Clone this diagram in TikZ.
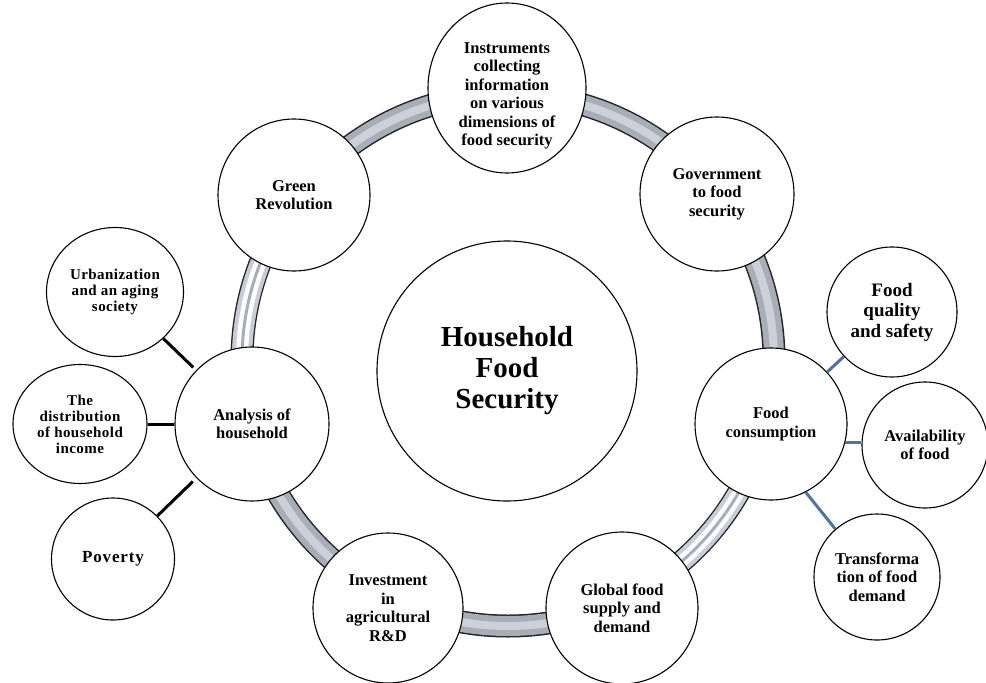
\documentclass[tikz,border=0pt]{standalone}
\usepackage{fontspec}
\setmainfont{Liberation Serif}
\usetikzlibrary{shapes.geometric}
\definecolor{ringgray}{HTML}{A9ADB8}
\definecolor{ringlight}{HTML}{CDD0D9}
\definecolor{ringlav}{HTML}{C8CBD8}
\definecolor{linkblue}{HTML}{4F7399}
\begin{document}
\begin{tikzpicture}[x=1pt,y=-1pt,
  bub/.style={circle, draw=black, line width=1.1pt, fill=white, inner sep=0pt, align=center,
    font=\bfseries\fontsize{16.5}{18.5}\selectfont},
  ebub/.style={ellipse, draw=black, line width=1.1pt, fill=white, inner sep=0pt, align=center,
    font=\bfseries\fontsize{15}{16}\selectfont\addfontfeature{LetterSpace=3}},
  blink/.style={line width=3pt, black},
  slink/.style={line width=3pt, linkblue},
  ringout/.style={line width=23pt, black!85},
  ringbase/.style={line width=20pt, ringgray},
  ringmid/.style={line width=8pt, ringlight},
  stripebase/.style={line width=20pt, ringlav},
  stripewhite/.style={line width=12pt, white},
  stripecore/.style={line width=3pt, ringgray}]
\useasboundingbox (0,0) rectangle (986,683);
\fill[white] (0,0) rectangle (986,683);
\coordinate (ringc) at (508,360);
% ring band
\draw[ringout] (ringc) circle[radius=266];
\draw[ringbase] (ringc) circle[radius=266];
\draw[ringmid] (ringc) circle[radius=266];
\foreach \a/\b in {166/218, 13/66}{
  \draw[stripebase] (ringc) ++(\a:266) arc[start angle=\a, end angle=\b, radius=266];
  \draw[stripewhite] (ringc) ++(\a:266) arc[start angle=\a, end angle=\b, radius=266];
  \draw[stripecore] (ringc) ++(\a:266) arc[start angle=\a, end angle=\b, radius=266];
}
% centre
\node[bub, minimum size=260, font=\bfseries\fontsize{29}{31}\selectfont] (hfs) at (507,371) {Household\\Food\\Security};
% ring nodes
\node[ellipse, draw=black, line width=1.1pt, fill=white, inner sep=0pt,
  minimum width=158, minimum height=170, font=\bfseries\fontsize{16.5}{18.5}\selectfont] (instr) at (507,88)
  {\raisebox{-8pt}[\height][\depth]{\begin{tabular}{@{}c@{}}Instruments\\collecting\\information\\on various\\dimensions of\\food security\end{tabular}}};
\node[bub, minimum size=154] (gov) at (717,194) {Government\\to food\\security};
\node[bub, minimum size=152] (cons) at (771,424) {Food\\consumption};
\node[bub, minimum size=152] (glob) at (622,608) {Global food\\supply and\\demand};
\node[bub, minimum size=150] (inv) at (388,608) {Investment\\in\\agricultural\\R\&D};
\node[bub, minimum size=154] (anal) at (252,424) {Analysis of\\household};
\node[bub, minimum size=152] (green) at (294,195) {Green\\Revolution};
% satellites right
\node[bub, minimum size=130, font=\bfseries\fontsize{19}{20.5}\selectfont] (qual) at (892,312) {Food\\quality\\and safety};
\node[bub, minimum size=126] (avail) at (925,445) {Availability\\of food};
\node[bub, minimum size=126] (trans) at (877,577) {Transforma\\tion of food\\demand};
% satellites left
\node[ebub, minimum width=137, minimum height=129] (urb) at (115,292) {Urbanization\\and an aging\\society};
\node[ebub, minimum width=134, minimum height=119] (dist) at (80,424) {The\\distribution\\of household\\income};
\node[ebub, minimum width=123, minimum height=122,
  font=\bfseries\fontsize{17}{18}\selectfont\addfontfeature{LetterSpace=5}] (pov) at (113,559) {Poverty};
% links
\draw[blink, shorten >=4pt] (urb) -- (anal);
\draw[blink] (dist) -- (anal);
\draw[blink, shorten >=5pt] (pov) -- (anal);
\draw[slink] (cons) -- (qual);
\draw[slink] (cons.-14) -- (avail.west |- cons.-14);
\draw[slink] (cons.-63) -- (trans.131);
\end{tikzpicture}
\end{document}
